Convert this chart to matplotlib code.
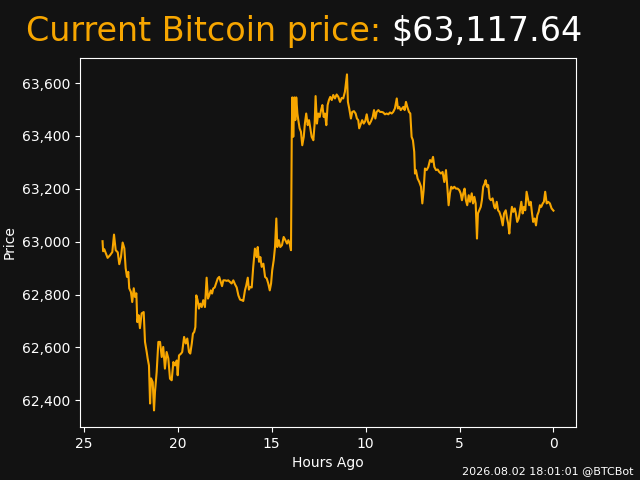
import matplotlib
matplotlib.use("Agg")
import matplotlib.pyplot as plt
from matplotlib.ticker import FuncFormatter

BG = "#121212"
ORANGE = "#f7a600"

current_price = "$63,117.64"
stamp = "2026.08.02 18:01:01 @BTCBot"

# hours ago
hours = [
    24.00, 23.97, 23.91, 23.73, 23.60, 23.48, 23.39, 23.30, 23.19, 23.11,
    23.02, 22.93, 22.84, 22.77, 22.70, 22.63, 22.58, 22.49, 22.42, 22.34,
    22.27, 22.20, 22.15, 22.08, 22.01, 21.92, 21.81, 21.74, 21.65, 21.60,
    21.53, 21.47, 21.42, 21.33, 21.26, 21.21, 21.12, 21.03, 20.94, 20.85,
    20.77, 20.68, 20.59, 20.50, 20.41, 20.32, 20.23, 20.14, 20.05, 20.00,
    19.93, 19.82, 19.76, 19.66, 19.57, 19.49, 19.40, 19.33, 19.25, 19.19,
    19.12, 19.06, 19.01, 18.94, 18.87, 18.80, 18.72, 18.64, 18.55, 18.46,
    18.39, 18.32, 18.24, 18.17, 18.11, 18.03, 17.96, 17.87, 17.79, 17.71,
    17.64, 17.57, 17.48, 17.39, 17.31, 17.22, 17.13, 17.04, 16.95, 16.86,
    16.77, 16.68, 16.59, 16.51, 16.42, 16.35, 16.27, 16.21, 16.14, 16.06,
    15.98, 15.89, 15.80, 15.74, 15.67, 15.60, 15.53, 15.44, 15.35, 15.26,
    15.18, 15.10, 15.03, 14.97, 14.89, 14.82, 14.75, 14.70, 14.62, 14.54,
    14.45, 14.36, 14.27, 14.18, 14.11, 14.04, 13.97, 13.93, 13.90, 13.85,
    13.79, 13.74, 13.69, 13.63, 13.58, 13.51, 13.44, 13.37, 13.29, 13.23,
    13.16, 13.08, 13.01, 12.94, 12.87, 12.78, 12.71, 12.66, 12.59, 12.52,
    12.44, 12.37, 12.30, 12.23, 12.16, 12.09, 12.02, 11.95, 11.88, 11.80,
    11.72, 11.63, 11.54, 11.45, 11.36, 11.27, 11.19, 11.10, 11.04, 10.99,
    10.94, 10.87, 10.78, 10.71, 10.62, 10.53, 10.46, 10.39, 10.34, 10.26,
    10.18, 10.10, 10.02, 9.94, 9.87, 9.80, 9.71, 9.62, 9.55, 9.48,
    9.41, 9.32, 9.23, 9.14, 9.06, 8.97, 8.88, 8.79, 8.70, 8.61,
    8.53, 8.44, 8.34, 8.28, 8.21, 8.13, 8.06, 7.99, 7.92, 7.85,
    7.78, 7.69, 7.62, 7.55, 7.48, 7.41, 7.37, 7.32, 7.23, 7.14,
    7.05, 6.98, 6.91, 6.84, 6.75, 6.66, 6.57, 6.48, 6.41, 6.34,
    6.25, 6.16, 6.08, 5.99, 5.90, 5.81, 5.72, 5.65, 5.58, 5.51,
    5.44, 5.36, 5.28, 5.19, 5.10, 5.01, 4.94, 4.87, 4.80, 4.73,
    4.66, 4.59, 4.51, 4.44, 4.35, 4.28, 4.21, 4.14, 4.07, 4.02,
    3.95, 3.87, 3.81, 3.74, 3.66, 3.61, 3.54, 3.47, 3.40, 3.33,
    3.24, 3.15, 3.10, 3.02, 2.95, 2.88, 2.79, 2.70, 2.63, 2.54,
    2.47, 2.41, 2.35, 2.28, 2.21, 2.14, 2.06, 2.00, 1.93, 1.85,
    1.78, 1.71, 1.64, 1.57, 1.50, 1.43, 1.36, 1.29, 1.21, 1.14,
    1.08, 1.00, 0.93, 0.86, 0.79, 0.72, 0.65, 0.57, 0.51, 0.44,
    0.36, 0.28, 0.19, 0.10, 0.00,
]

# price in USD at each point
prices = [
    63002, 62964, 62972, 62939, 62949, 62961, 63027, 62968, 62960, 62915,
    62942, 62997, 62975, 62900, 62867, 62886, 62824, 62810, 62772, 62824,
    62791, 62805, 62696, 62722, 62673, 62729, 62734, 62621, 62583, 62559,
    62532, 62388, 62483, 62469, 62362, 62431, 62507, 62621, 62621, 62564,
    62602, 62520, 62583, 62559, 62482, 62476, 62545, 62532, 62551, 62495,
    62570, 62577, 62583, 62640, 62615, 62634, 62583, 62577, 62615, 62652,
    62659, 62677, 62797, 62779, 62747, 62766, 62753, 62779, 62753, 62864,
    62785, 62797, 62816, 62804, 62823, 62827, 62842, 62861, 62867, 62848,
    62832, 62854, 62854, 62852, 62854, 62848, 62842, 62854, 62839, 62827,
    62797, 62781, 62779, 62776, 62816, 62835, 62864, 62819, 62829, 62827,
    62905, 62974, 62942, 62980, 62924, 62942, 62905, 62917, 62867, 62861,
    62842, 62816, 62842, 62892, 62930, 62980, 63088, 62980, 63006, 62980,
    62987, 63018, 63006, 62993, 63006, 62993, 62968, 63397, 63546, 63397,
    63546, 63460, 63546, 63485, 63460, 63429, 63416, 63365, 63397, 63447,
    63485, 63441, 63460, 63429, 63397, 63384, 63447, 63551, 63447, 63485,
    63472, 63498, 63517, 63472, 63485, 63441, 63517, 63536, 63548, 63536,
    63555, 63542, 63557, 63548, 63529, 63544, 63542, 63567, 63605, 63633,
    63529, 63504, 63466, 63491, 63494, 63485, 63466, 63460, 63429, 63444,
    63460, 63447, 63456, 63482, 63454, 63444, 63456, 63472, 63498, 63466,
    63491, 63498, 63491, 63491, 63489, 63482, 63485, 63482, 63489, 63485,
    63491, 63504, 63542, 63504, 63510, 63498, 63504, 63510, 63498, 63529,
    63510, 63491, 63485, 63397, 63384, 63340, 63258, 63271, 63239, 63226,
    63208, 63145, 63195, 63277, 63271, 63283, 63309, 63302, 63321, 63283,
    63271, 63273, 63264, 63258, 63264, 63226, 63271, 63208, 63138, 63183,
    63208, 63201, 63208, 63201, 63201, 63195, 63183, 63157, 63183, 63201,
    63157, 63138, 63176, 63151, 63183, 63145, 63170, 63145, 63012, 63107,
    63119, 63132, 63157, 63208, 63220, 63233, 63208, 63214, 63164, 63157,
    63164, 63132, 63126, 63151, 63119, 63113, 63094, 63062, 63107, 63119,
    63088, 63069, 63031, 63094, 63132, 63113, 63126, 63107, 63075, 63088,
    63119, 63151, 63107, 63132, 63119, 63189, 63164, 63138, 63151, 63107,
    63075, 63088, 63062, 63100, 63113, 63138, 63132, 63145, 63151, 63189,
    63145, 63151, 63145, 63126, 63117.64,
]

fig, ax = plt.subplots(figsize=(6.4, 4.8), dpi=100)
fig.patch.set_facecolor(BG)
ax.set_facecolor(BG)

ax.plot(hours, prices, color=ORANGE, linewidth=1.5)
ax.invert_xaxis()

ax.set_xlabel("Hours Ago", color="white")
ax.set_ylabel("Price", color="white")
ax.yaxis.set_major_formatter(FuncFormatter(lambda v, p: f"{v:,.0f}"))
ax.tick_params(colors="white")
for s in ax.spines.values():
    s.set_color("white")

# title in two colours
fig.text(381 / 640, 1 - 41 / 480, "Current Bitcoin price:", color=ORANGE,
         fontsize=24, ha="right", va="baseline")
fig.text(391 / 640, 1 - 41 / 480, current_price, color="white",
         fontsize=24, ha="left", va="baseline")

fig.text(633 / 640, 1 - 474 / 480, stamp, color="white", fontsize=8,
         ha="right", va="baseline")

fig.savefig("out.png", facecolor=BG)
